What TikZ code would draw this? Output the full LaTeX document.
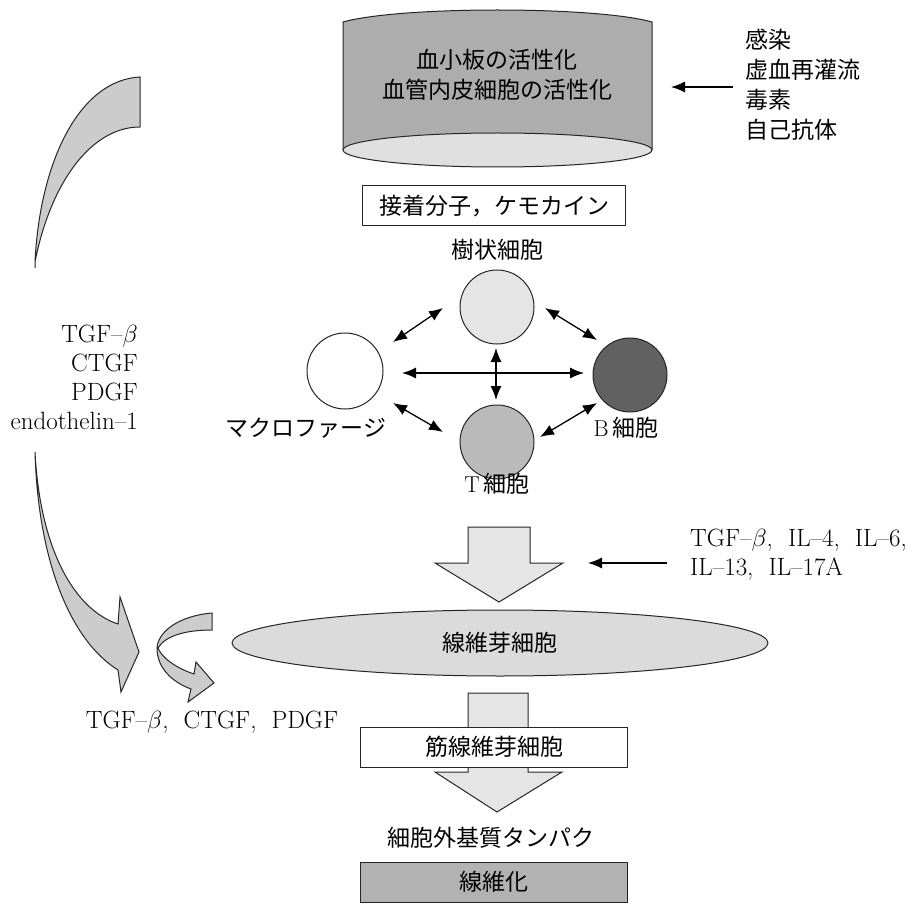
\documentclass[tikz,border=0pt]{standalone}
\usepackage{fontspec}
\newfontfamily\cjk{Noto Sans CJK JP}
\usetikzlibrary{arrows.meta,shapes.geometric}
\begin{document}
\begin{tikzpicture}[x=1pt,y=-1pt,
  jp/.style={font=\cjk\fontsize{23}{30}\selectfont, inner sep=0pt},
  lat/.style={font=\fontsize{25}{29}\selectfont, inner sep=0pt},
  dbl/.style={{Latex[length=14pt,width=11pt]}-{Latex[length=14pt,width=11pt]}, line width=1.3pt},
  sgl/.style={-{Latex[length=14pt,width=11pt]}, line width=1.3pt},
  outl/.style={draw=black!85, line width=1pt},
  cell/.style={circle, minimum size=74pt, inner sep=0pt, draw=black!85, line width=1pt}]
\useasboundingbox (0,0) rectangle (924,904);
\fill[white] (0,0) rectangle (924,904);

% cylinder
\fill[black!32] (343,22) .. controls (400,6) and (595,6) .. (652,22) -- (652,150) -- (343,150) -- cycle;
\draw[outl] (343,150) -- (343,22) .. controls (400,6) and (595,6) .. (652,22) -- (652,150);
\draw[outl, fill=black!12] (497.5,150) ellipse [x radius=154.5, y radius=17];
\node[jp, align=center] (cyl) at (497,75) {血小板の活性化\\血管内皮細胞の活性化};

% causes
\node[jp, align=left, anchor=north west] (cause) at (745,29) {感染\\虚血再灌流\\毒素\\自己抗体};
\coordinate (cs) at (733,87);
\coordinate (ct) at (671,87);
\draw[sgl] (cs) -- (ct);

% adhesion box
\node[jp, draw=black!85, line width=1pt, fill=white, minimum width=263pt, minimum height=40pt] (adh) at (494,206) {接着分子，ケモカイン};

% cells
\node[cell, fill=black!10] (dc) at (497,307) {};
\node[cell, fill=white, minimum size=76pt] (mac) at (345,371) {};
\node[cell, fill=black!62] (bc) at (630,375) {};
\node[cell, fill=black!27] (tc) at (497,442) {};
\node[jp] (dcl) at (497,250) {樹状細胞};
\node[jp] (macl) at (306,428) {マクロファージ};
\node[jp] (bcl) at (626,428) {{\rmfamily B}\,細胞};
\node[jp] (tcl) at (497,484) {{\rmfamily T}\,細胞};

\coordinate (a1) at (393,342); \coordinate (a2) at (443,308);
\coordinate (b1) at (545,308); \coordinate (b2) at (597,340);
\coordinate (h1) at (402,373); \coordinate (h2) at (584,373);
\coordinate (v1) at (496,348); \coordinate (v2) at (496,400);
\coordinate (c1) at (393,403); \coordinate (c2) at (443,432);
\coordinate (d1) at (597,403); \coordinate (d2) at (540,437);
\draw[dbl] (a1) -- (a2);
\draw[dbl] (b1) -- (b2);
\draw[dbl] (h1) -- (h2);
\draw[dbl] (v1) -- (v2);
\draw[dbl] (c1) -- (c2);
\draw[dbl] (d1) -- (d2);

% big arrow 1
\draw[outl, fill=black!10] (468,527) -- (530,527) -- (530,563) -- (563,563) -- (499,602) -- (435,563) -- (468,563) -- cycle;
\coordinate (ils) at (667,563);
\coordinate (ilt) at (588,563);
\draw[sgl] (ils) -- (ilt);
\node[lat, align=left, anchor=north west] (il) at (690,529) {TGF--$\beta$,\ \ IL--4,\ \ IL--6,\\IL--13,\ \ IL--17A};

% fibroblast
\node[jp, ellipse, draw=black!85, line width=1pt, fill=black!14, minimum width=536pt, minimum height=66pt] (fib) at (500,643) {線維芽細胞};

% big arrow 2
\draw[outl, fill=black!10] (468,693) -- (528,693) -- (528,772) -- (562,772) -- (497,812) -- (435,772) -- (468,772) -- cycle;
\node[jp, draw=black!85, line width=1pt, fill=white, minimum width=267pt, minimum height=40pt] (myo) at (494,747) {筋線維芽細胞};
\node[jp] (ecm) at (491,838) {細胞外基質タンパク};
\node[jp, draw=black!85, line width=1pt, fill=black!30, minimum width=267pt, minimum height=40pt] (fibr) at (494,882) {線維化};

% left labels
\node[lat, align=right, anchor=north east] (gf) at (138,325) {TGF--$\beta$\\CTGF\\PDGF\\endothelin--1};
\node[lat] (gf2) at (212,722) {TGF--$\beta$,\ \ CTGF,\ \ PDGF};

% top curved band
\draw[outl, fill=black!20] (140,77) .. controls (80,80) and (40,160) .. (35,262)
  -- (35,268) -- (35,262) .. controls (50,185) and (90,127) .. (140,127) -- cycle;
% lower curved arrow
\draw[outl, fill=black!20] (35,452) .. controls (38,560) and (70,640) .. (118,670)
  -- (121,692) -- (139,652) -- (120,597) -- (118,624)
  .. controls (75,610) and (40,550) .. (35,452) -- cycle;
% curl arrow
\draw[outl, fill=black!20] (212,613) .. controls (178,616) and (158,632) .. (157,648)
  .. controls (157,668) and (172,682) .. (191,689)
  -- (188,702) -- (214,683) -- (196,662) -- (194,674)
  .. controls (176,668) and (162,658) .. (158,648)
  .. controls (165,636) and (185,630) .. (212,630) -- cycle;
\end{tikzpicture}
\end{document}
